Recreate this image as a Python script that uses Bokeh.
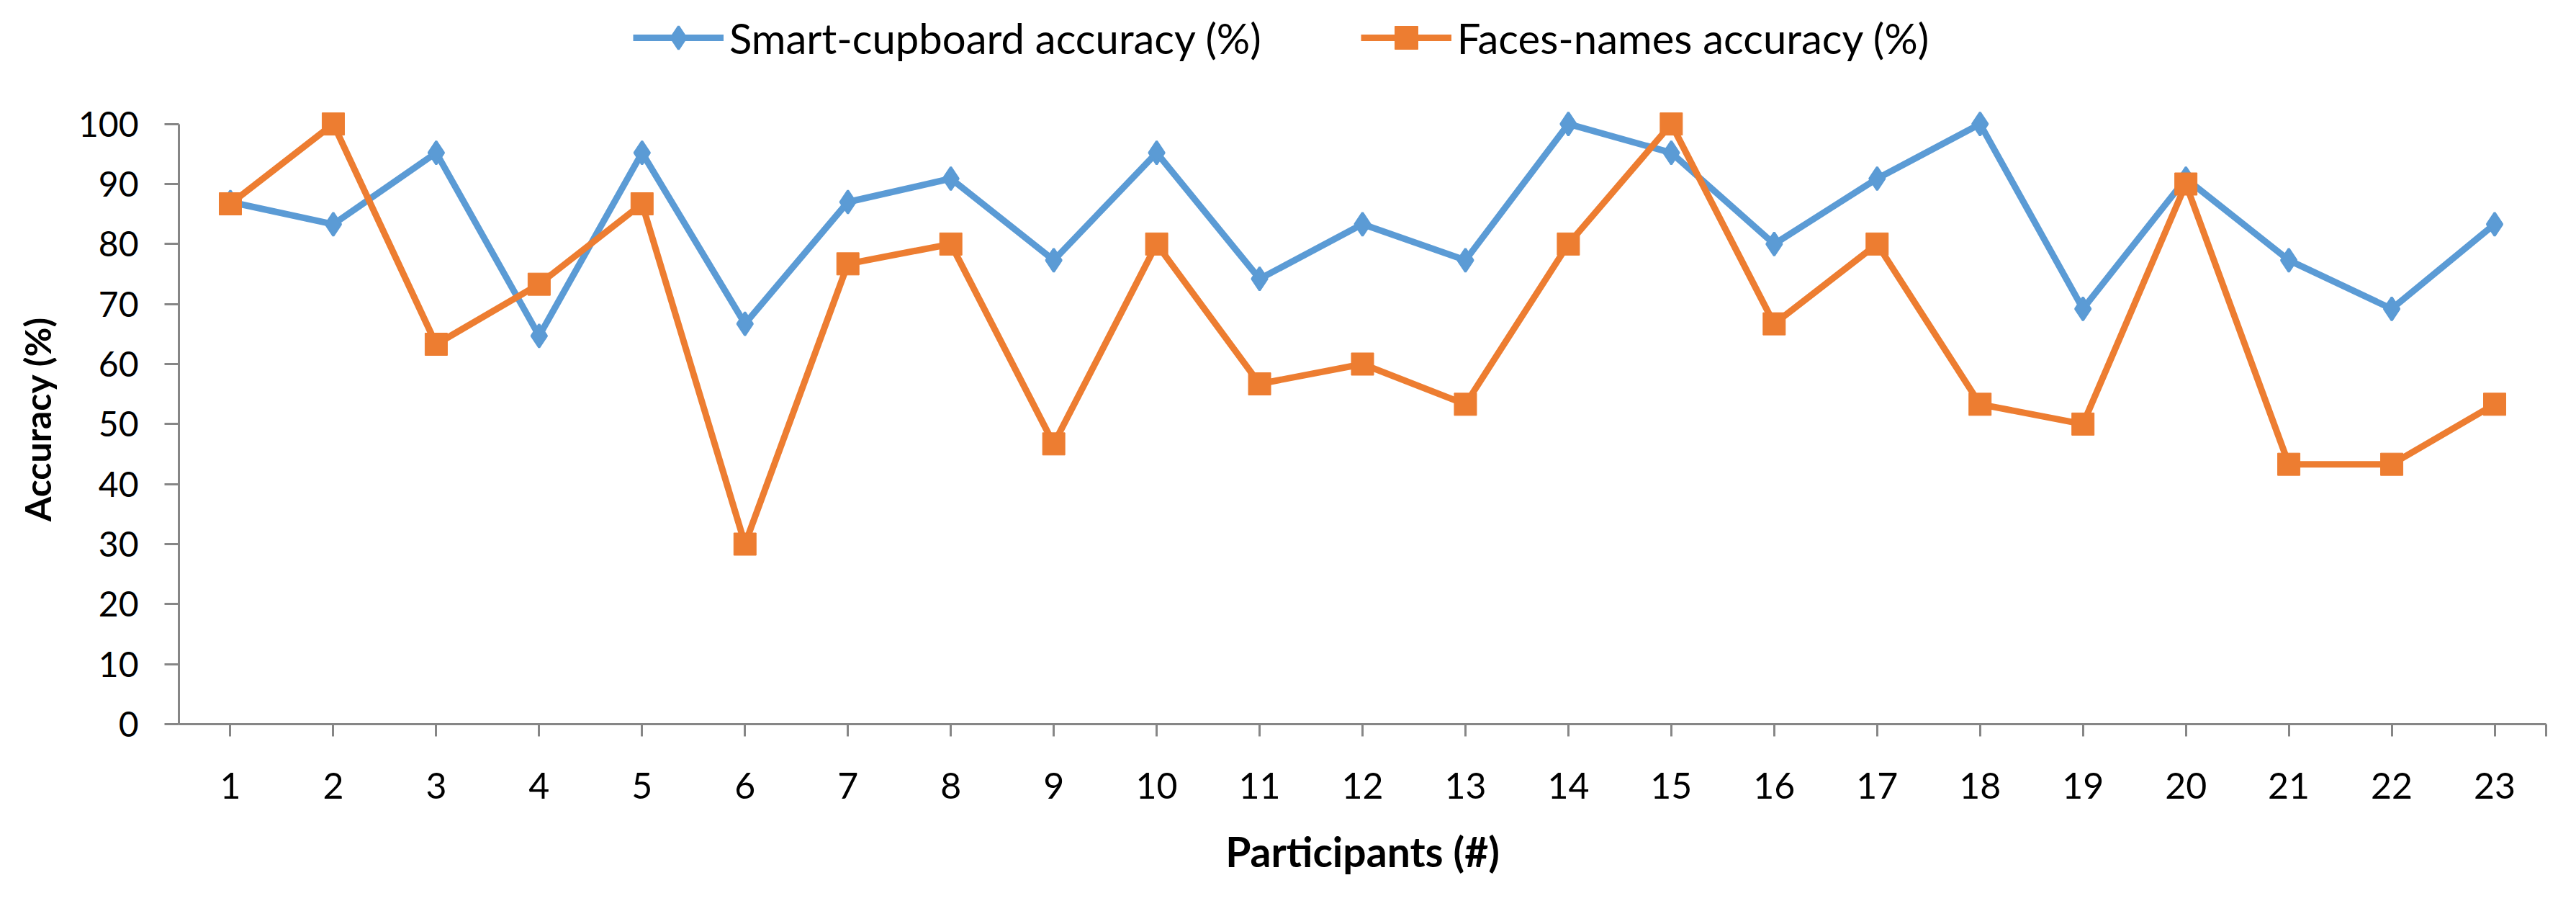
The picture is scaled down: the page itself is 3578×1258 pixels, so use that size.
from bokeh.plotting import figure
from bokeh.models import Range1d, FixedTicker, Legend, LegendItem, CustomJSTickFormatter
from bokeh.embed import file_html
from bokeh.resources import INLINE

# ---- data ----
participants = list(range(1, 24))
smart_cupboard = [87.0, 83.3, 95.2, 64.7, 95.2, 66.7, 87.0, 90.9, 77.3, 95.2, 74.2, 83.3,
                  77.3, 100.0, 95.2, 80.0, 90.9, 100.0, 69.2, 90.9, 77.3, 69.2, 83.3]
faces_names = [86.7, 100.0, 63.3, 73.3, 86.7, 30.0, 76.7, 80.0, 46.7, 80.0, 56.7, 60.0,
               53.3, 80.0, 100.0, 66.7, 80.0, 53.3, 50.0, 90.0, 43.3, 43.3, 53.3]
y_ticks = [0, 10, 20, 30, 40, 50, 60, 70, 80, 90, 100]
series_labels = ["Smart-cupboard accuracy (%)", "Faces-names accuracy (%)"]
x_title = "Participants (#)"
y_title = "Accuracy (%)"

BLUE = "#5B9BD5"
ORANGE = "#ED7D31"
AXIS = "#868686"
FONT = "Lato"

# frame extends to the top of the canvas so the legend (drawn inside the frame) is not clipped
p = figure(width=3562, height=1242, output_backend="svg", toolbar_location=None,
           x_range=Range1d(0.5, 23.5), y_range=Range1d(0, 120.6),
           min_border_left=248, min_border_right=26, min_border_top=0, min_border_bottom=237)
p.outline_line_color = None
p.grid.grid_line_color = None
p.background_fill_color = "white"

l1 = p.line(participants, smart_cupboard, line_color=BLUE, line_width=9, line_join="round")
s1 = p.scatter(participants, smart_cupboard, marker="diamond", size=32,
               fill_color=BLUE, line_color=BLUE, line_width=3)
l2 = p.line(participants, faces_names, line_color=ORANGE, line_width=9, line_join="round")
s2 = p.scatter(participants, faces_names, marker="square", size=31,
               fill_color=ORANGE, line_color=ORANGE, line_width=1)

# axes
xa = p.xaxis[0]
xa.ticker = FixedTicker(ticks=participants + [23.5])
xa.formatter = CustomJSTickFormatter(code="return (Math.abs(tick - Math.round(tick)) < 1e-6) ? String(Math.round(tick)) : '';")
ya = p.yaxis[0]
ya.ticker = FixedTicker(ticks=y_ticks)
ya.bounds = (0, 100)

for ax in (xa, ya):
    ax.axis_line_color = AXIS
    ax.axis_line_width = 3
    ax.major_tick_line_color = AXIS
    ax.major_tick_line_width = 3
    ax.minor_tick_line_color = None
    ax.major_tick_in = 0
    ax.major_label_text_font = FONT
    ax.major_label_text_font_size = "50px"
    ax.major_label_text_color = "black"
    ax.axis_label_text_font = FONT
    ax.axis_label_text_font_style = "bold"
    ax.axis_label_text_color = "black"

xa.major_tick_out = 17
xa.major_label_standoff = 50
xa.axis_label = x_title
xa.axis_label_text_font_size = "57px"
xa.axis_label_standoff = 36

ya.major_label_text_font_size = "48px"
ya.major_tick_out = 20
ya.major_label_standoff = 36
# trailing no-break spaces move the centred, rotated title down to the middle of the 0-100 axis
ya.axis_label = y_title + "\u00a0" * 13
ya.axis_label_text_font_size = "50px"
ya.axis_label_standoff = 24

legend = Legend(
    items=[LegendItem(label=series_labels[0], renderers=[l1, s1]),
           LegendItem(label=series_labels[1], renderers=[l2, s2])],
    orientation="horizontal", location=(631, 913),
    glyph_width=126, glyph_height=80, label_standoff=8, spacing=138,
    padding=0, margin=0, border_line_alpha=0, background_fill_alpha=0,
    label_text_font=FONT, label_text_font_size="58px", label_text_color="black",
)
p.add_layout(legend)

open("out.html", "w").write(file_html(p, INLINE))
